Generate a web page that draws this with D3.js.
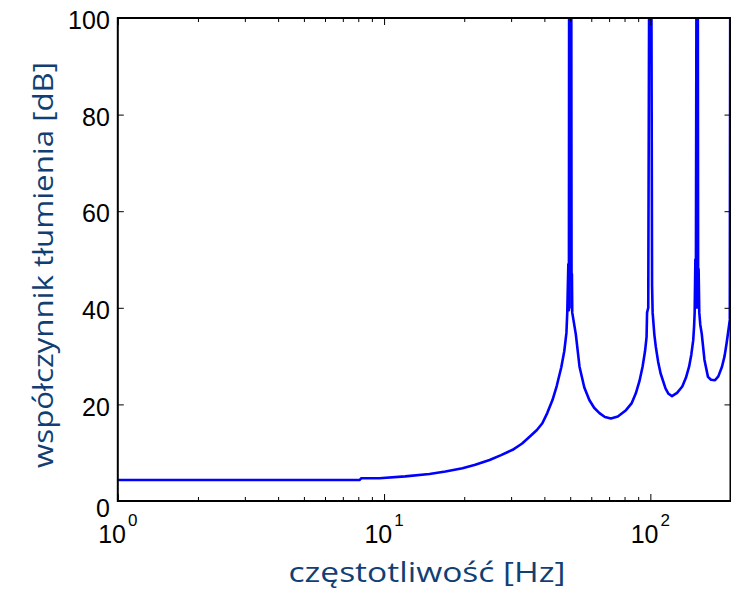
<!DOCTYPE html>
<html>
<head>
<meta charset="utf-8">
<script src="https://cdn.jsdelivr.net/npm/d3@7"></script>
<style>
  body { margin: 0; background: #fff; }
  svg { display: block; }
</style>
</head>
<body>
<div id="chart"></div>
<script>
// czestotliwosc [Hz] i tlumienie [dB]
const freq = [1, 2, 4, 8.1, 8.2, 9.6, 12, 14.8, 17, 19.7, 22, 24.9, 27.5, 30.4, 33, 35.2, 37.5, 39.3, 41, 42.9,
  44.5, 46.3, 47.5, 48.4, 48.75, 49.2, 49.45, 49.6, 50.4, 50.6, 50.75, 50.9, 52.5, 54.2, 56.5, 59, 61.5, 64.4, 67.5, 71.1,
  75.5, 81, 85, 88.2, 91, 93.5, 95.5, 96.8, 97.2, 98.2, 99.5, 100.5, 101.5, 102, 103.5, 104.8, 107, 109.3, 114, 117,
  120.6, 126, 131.8, 136, 139.8, 142.5, 144.9, 146, 146.7, 147.6, 148.2, 149.5, 150.5, 151.2, 151.8, 152.7, 154, 155.9,
  159.7, 164.6, 169, 174.9, 180, 185.8, 190, 193.3, 196, 198.8, 200];
const atten = [4.35, 4.35, 4.35, 4.35, 4.7, 4.7, 5.1, 5.6, 6.1, 6.8, 7.5, 8.5, 9.5, 10.6, 11.9, 13.3, 14.7, 16.1, 18.2, 20.9,
  23.8, 27.7, 31, 34.8, 39, 49, 39.5, 150, 150, 40, 47, 39, 34.5, 27.8, 23.5, 20.9, 19.3, 18.2, 17.4, 17.1,
  17.5, 18.8, 20.2, 22.3, 24.8, 27.8, 31, 34, 39, 40, 150, 150, 44.7, 39, 34.5, 32, 28.8, 26.4, 23.3, 22.2,
  21.7, 22.4, 23.7, 25.5, 27.8, 30.3, 33.3, 36.2, 39, 50, 40, 150, 150, 40, 48, 39, 36.5, 34.7,
  29.2, 25.7, 25.1, 25, 25.8, 27.8, 30, 32.6, 35, 37.5, 150];

const xMajor = [1, 10, 100];
const xMinor = [2, 3, 4, 5, 6, 7, 8, 9, 20, 30, 40, 50, 60, 70, 80, 90, 200];
const xExp = ["0", "1", "2"];
const yTicks = [0, 20, 40, 60, 80, 100];

const xTitle = "częstotliwość [Hz]";
const yTitle = "współczynnik tłumienia [dB]";

const W = 731, H = 592;
const mLeft = 117.8, mRight = 730.5, mTop = 18, mBottom = 501;

const svg = d3.select("#chart").append("svg").attr("width", W).attr("height", H);

const x = d3.scaleLog().domain([1, 200]).range([mLeft, mRight]);
const y = d3.scaleLinear().domain([0, 100]).range([mBottom, mTop]);

const data = freq.map((f, i) => ({f: f, v: atten[i]}));

svg.append("clipPath").attr("id", "plot")
  .append("rect").attr("x", mLeft).attr("y", mTop)
  .attr("width", mRight - mLeft).attr("height", mBottom - mTop);

// krzywa
svg.append("path")
  .datum(data)
  .attr("clip-path", "url(#plot)")
  .attr("fill", "none")
  .attr("stroke", "#0000ff")
  .attr("stroke-width", 2.6)
  .attr("stroke-linejoin", "round")
  .attr("d", d3.line().x(d => x(d.f)).y(d => y(d.v)));

// osie - znaczniki do srodka
function ticks(axis, vals, size, tr) {
  const g = svg.append("g").attr("transform", tr)
    .call(axis.tickValues(vals).tickSizeInner(-size).tickSizeOuter(0).tickFormat(""));
  g.select(".domain").remove();
  g.selectAll("line").attr("stroke", "#000").attr("stroke-width", 1);
  return g;
}
ticks(d3.axisBottom(x), xMajor, 7, `translate(0,${mBottom})`);
ticks(d3.axisBottom(x), xMinor, 4, `translate(0,${mBottom})`);
ticks(d3.axisTop(x), xMajor, 7, `translate(0,${mTop})`);
ticks(d3.axisTop(x), xMinor, 4, `translate(0,${mTop})`);
ticks(d3.axisLeft(y), yTicks, 6, `translate(${mLeft},0)`);
ticks(d3.axisRight(y), yTicks, 6, `translate(${mRight},0)`);

// ramka
svg.append("rect")
  .attr("x", mLeft).attr("y", mTop)
  .attr("width", mRight - mLeft).attr("height", mBottom - mTop)
  .attr("fill", "none").attr("stroke", "#000").attr("stroke-width", 2);

// etykiety osi Y
svg.append("g").selectAll("text")
  .data(yTicks)
  .join("text")
  .attr("x", mLeft - 8)
  .attr("y", d => y(d))
  .attr("dy", d => d === 0 ? "0.62em" : "0.45em")
  .attr("text-anchor", "end")
  .attr("font-family", "Liberation Sans, Arial, sans-serif")
  .attr("font-size", 25)
  .attr("fill", "#000")
  .text(d => d);

// etykiety osi X: 10^n
const xl = svg.append("g").selectAll("text")
  .data(xMajor)
  .join("text")
  .attr("x", d => x(d))
  .attr("y", 543)
  .attr("text-anchor", "middle")
  .attr("font-family", "Liberation Sans, Arial, sans-serif")
  .attr("font-size", 25)
  .attr("fill", "#000");
xl.append("tspan").text("10");
xl.append("tspan").attr("dy", -17).attr("dx", 2).attr("font-size", 17).text((d, i) => xExp[i]);

// tytuly osi
svg.append("text")
  .attr("x", 427)
  .attr("y", 582)
  .attr("text-anchor", "middle")
  .attr("font-family", "Open Sans, sans-serif")
  .attr("font-size", 27)
  .attr("fill", "#123f73")
  .attr("textLength", 277)
  .attr("lengthAdjust", "spacingAndGlyphs")
  .text(xTitle);

svg.append("text")
  .attr("transform", "translate(53,265) rotate(-90)")
  .attr("text-anchor", "middle")
  .attr("font-family", "Open Sans, sans-serif")
  .attr("font-size", 27)
  .attr("fill", "#123f73")
  .attr("textLength", 406)
  .attr("lengthAdjust", "spacingAndGlyphs")
  .text(yTitle);
</script>
</body>
</html>
